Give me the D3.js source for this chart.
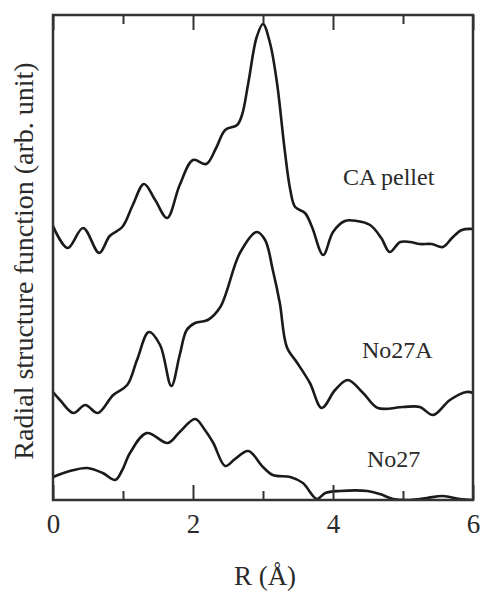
<!DOCTYPE html>
<html>
<head>
<meta charset="utf-8">
<script src="https://cdn.jsdelivr.net/npm/d3@7"></script>
<style>
  html, body { margin: 0; padding: 0; background: #fff; }
  svg { display: block; }
</style>
</head>
<body>
<svg id="chart" width="484" height="593"></svg>
<script>
// R values (Å) and radial structure function values (arb. unit)
const caPelletR = [0, 0.21, 0.43, 0.66, 0.81, 0.99, 1.14, 1.30, 1.46, 1.63, 1.81, 2.0, 2.19, 2.33, 2.46, 2.63, 2.70, 2.79, 2.91, 3.0, 3.1, 3.2, 3.31, 3.39, 3.46, 3.6, 3.7, 3.86, 4.0, 4.17, 4.34, 4.53, 4.69, 4.81, 4.96, 5.1, 5.24, 5.41, 5.57, 5.7, 5.84, 6.0];
const caPelletV = [274, 252, 272, 247, 264, 273, 295, 316, 300, 282, 315, 340, 336, 352, 370, 375, 385, 417, 463, 476, 457, 417, 350, 310, 293, 287, 273, 245, 268, 279, 279, 275, 262, 248, 258, 258, 256, 256, 253, 262, 270, 271];

const no27AR = [0, 0.1, 0.29, 0.46, 0.64, 0.86, 1.06, 1.2, 1.37, 1.53, 1.69, 1.81, 1.91, 2.03, 2.21, 2.39, 2.67, 2.91, 3.03, 3.14, 3.24, 3.34, 3.49, 3.67, 3.84, 4.03, 4.21, 4.43, 4.64, 5.0, 5.24, 5.43, 5.67, 5.91, 6.0];
const no27AV = [108, 100, 87, 95, 87, 105, 115, 140, 168, 155, 114, 145, 170, 177, 180, 193, 247, 268, 260, 230, 197, 153, 137, 117, 92, 110, 120, 107, 92, 93, 93, 85, 100, 108, 107];

const no27R = [0, 0.24, 0.49, 0.71, 0.89, 0.99, 1.1, 1.34, 1.64, 1.81, 2.03, 2.17, 2.29, 2.46, 2.6, 2.79, 3.0, 3.14, 3.39, 3.57, 3.77, 3.89, 4.1, 4.49, 4.67, 4.86, 5.1, 5.34, 5.57, 5.81, 6.0];
const no27V = [23, 29, 32, 27, 20, 30, 47, 67, 57, 68, 81, 70, 57, 34, 41, 49, 33, 25, 23, 17, 1, 7, 9, 9, 6, 1, 0, 2, 4, 1, 0];

const seriesNames = ["CA pellet", "No27A", "No27"];
const majorTicks = [0, 2, 4, 6];
const minorTicks = [1, 3, 5];
const xTitle = "R (Å)";
const yTitle = "Radial structure function (arb. unit)";

const FONT = "Liberation Serif";
const TEXT_COLOR = "#2a2a2a";

const svg = d3.select("#chart");
const m = { left: 53, right: 473, top: 15, bottom: 500 };

const x = d3.scaleLinear().domain([0, 6]).range([m.left, m.right]);
const y = d3.scaleLinear().domain([0, 485]).range([m.bottom, m.top]);

svg.append("clipPath").attr("id", "clip")
  .append("rect").attr("x", m.left).attr("y", m.top)
  .attr("width", m.right - m.left).attr("height", m.bottom - m.top);

const line = d3.line().x(d => x(d[0])).y(d => y(d[1])).curve(d3.curveCatmullRom.alpha(0.5));

const series = [
  { name: seriesNames[0], R: caPelletR, V: caPelletV },
  { name: seriesNames[1], R: no27AR, V: no27AV },
  { name: seriesNames[2], R: no27R, V: no27V }
];

const g = svg.append("g").attr("clip-path", "url(#clip)");
series.forEach(s => {
  g.append("path")
    .datum(s.R.map((r, i) => [r, s.V[i]]))
    .attr("d", line)
    .attr("fill", "none")
    .attr("stroke", "#1a1a1a")
    .attr("stroke-width", 2.6)
    .attr("stroke-linejoin", "round");
});

// Axes: bottom and top with inward ticks
const axisColor = "#333";
function styleAxis(sel) {
  sel.select(".domain").remove();
  sel.selectAll("line").attr("stroke", axisColor).attr("stroke-width", 2);
}
const bottomMajor = svg.append("g").attr("transform", `translate(0,${m.bottom})`)
  .call(d3.axisBottom(x).tickValues(majorTicks).tickSize(-15).tickFormat(d3.format("d")));
styleAxis(bottomMajor);
bottomMajor.selectAll("text")
  .style("font-family", FONT)
  .style("font-size", "27px").attr("fill", TEXT_COLOR).attr("dy", null).attr("y", 33);

const bottomMinor = svg.append("g").attr("transform", `translate(0,${m.bottom})`)
  .call(d3.axisBottom(x).tickValues(minorTicks).tickSize(-9).tickFormat(""));
styleAxis(bottomMinor);

const topMajor = svg.append("g").attr("transform", `translate(0,${m.top})`)
  .call(d3.axisTop(x).tickValues(majorTicks).tickSize(-15).tickFormat(""));
styleAxis(topMajor);
const topMinor = svg.append("g").attr("transform", `translate(0,${m.top})`)
  .call(d3.axisTop(x).tickValues(minorTicks).tickSize(-9).tickFormat(""));
styleAxis(topMinor);

// Frame
svg.append("rect")
  .attr("x", m.left).attr("y", m.top)
  .attr("width", m.right - m.left).attr("height", m.bottom - m.top)
  .attr("fill", "none").attr("stroke", axisColor).attr("stroke-width", 2.5);

// Axis titles
svg.append("text")
  .attr("x", 265).attr("y", 585)
  .attr("text-anchor", "middle")
  .style("font-family", FONT).style("font-size", "27px").attr("fill", TEXT_COLOR)
  .text(xTitle);

svg.append("text")
  .attr("transform", `translate(33,${261}) rotate(-90)`)
  .attr("text-anchor", "middle")
  .style("font-family", FONT).style("font-size", "28px").attr("fill", TEXT_COLOR)
  .text(yTitle);

// Curve labels
const labelPos = [[343, 185], [362, 358], [367, 467]];
series.forEach((s, i) => {
  svg.append("text")
    .attr("x", labelPos[i][0]).attr("y", labelPos[i][1])
    .style("font-family", FONT).style("font-size", "24px").attr("fill", TEXT_COLOR)
    .text(s.name);
});
</script>
</body>
</html>
